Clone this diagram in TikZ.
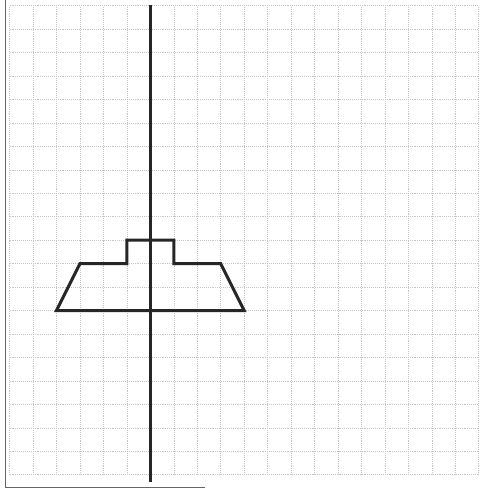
\documentclass[tikz,border=0pt]{standalone}
\usetikzlibrary{calc}

\begin{document}
\begin{tikzpicture}[
    x=0.6cm, y=0.6cm,
    gridline/.style={gray!45, densely dotted, line width=0.4pt},
    frameline/.style={gray!80!black, line width=0.6pt},
    axisline/.style={black!85, line width=2.2pt},
    figure/.style={black!85, line width=2.2pt, line join=miter}
]

% Page size
\useasboundingbox (-6.41,-7.61) rectangle (14.02,13.24);

% Squared paper
\foreach \x in {-6,...,14} {
    \draw[gridline] (\x,-7) -- (\x,13);
}
\foreach \y in {-7,...,13} {
    \draw[gridline] (-6,\y) -- (14,\y);
}

% Edge of the sheet
\draw[frameline] (-6.2,13.24) -- (-6.2,-7.55) -- (2.35,-7.55);

% Axis of symmetry
\draw[axisline] (0,13.03) -- (0,-7.31);

% Figure
\draw[figure] (-4,0) -- (4,0) -- (3,2) -- (1,2) -- (1,3)
    -- (-1,3) -- (-1,2) -- (-3,2) -- cycle;

\end{tikzpicture}
\end{document}
